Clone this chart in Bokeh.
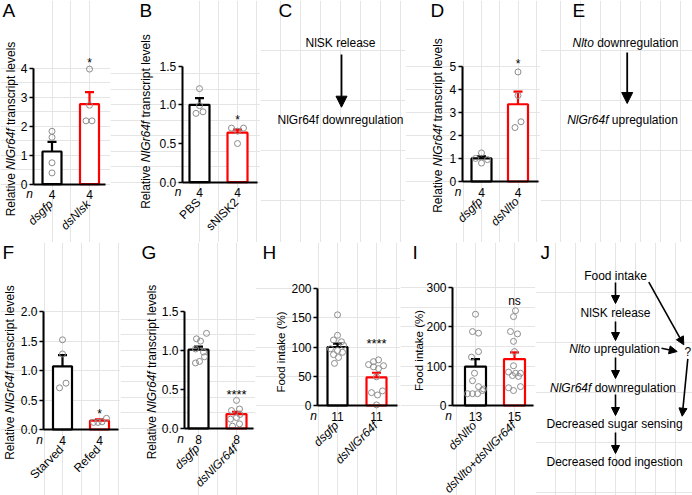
import math
from bokeh.plotting import figure
from bokeh.models import Range1d, FixedTicker, Arrow, NormalHead, LinearAxis
from bokeh.layouts import row, column
from bokeh.core.properties import value
from bokeh.embed import file_html
from bokeh.resources import INLINE

FONT = "Liberation Sans"

# ---------------- data ----------------
A_cats = ["dsgfp", "dsNlsk"]
A_n = [4, 4]
A_mean = [1.13, 2.77]
A_sem = [0.33, 0.41]
A_pts_0 = [1.83, 1.62, 0.74, 0.39]
A_pts_1 = [3.98, 2.73, 2.19, 2.19]
A_ticks = [0, 1, 2, 3, 4]
A_tick_labels = ["0", "1", "2", "3", "4"]
A_sig = "*"
A_sig_y = 4.3

B_cats = ["PBS", "sNlSK2"]
B_n = [4, 4]
B_mean = [1.00, 0.64]
B_sem = [0.086, 0.04]
B_pts_0 = [1.21, 0.99, 0.89, 0.91]
B_pts_1 = [0.70, 0.66, 0.50, 0.70]
B_ticks = [0, 0.5, 1, 1.5]
B_tick_labels = ["0.0", "0.5", "1.0", "1.5"]
B_sig = "*"
B_sig_y = 0.84

D_cats = ["dsgfp", "dsNlto"]
D_n = [4, 4]
D_mean = [1.00, 3.35]
D_sem = [0.09, 0.55]
D_pts_0 = [1.24, 1.00, 0.80, 0.95]
D_pts_1 = [4.75, 3.73, 2.59, 2.34]
D_ticks = [0, 1, 2, 3, 4, 5]
D_tick_labels = ["0", "1", "2", "3", "4", "5"]
D_sig = "*"
D_sig_y = 5.24

F_cats = ["Starved", "Refed"]
F_n = [4, 4]
F_mean = [1.07, 0.15]
F_sem = [0.19, 0.02]
F_pts_0 = [1.52, 1.28, 0.785, 0.706]
F_pts_1 = [0.19, 0.12, 0.12, 0.13]
F_ticks = [0, 0.5, 1, 1.5, 2]
F_tick_labels = ["0.0", "0.5", "1.0", "1.5", "2.0"]
F_sig = "*"
F_sig_y = 0.32

G_cats = ["dsgfp", "dsNlGr64f"]
G_n = [8, 8]
G_mean = [1.01, 0.185]
G_sem = [0.04, 0.03]
G_pts_0 = [1.22, 1.15, 1.12, 1.02, 0.98, 0.92, 0.86, 0.84]
G_pts_1 = [0.36, 0.25, 0.23, 0.18, 0.14, 0.12, 0.06, 0.03]
G_ticks = [0, 0.5, 1, 1.5]
G_tick_labels = ["0.0", "0.5", "1.0", "1.5"]
G_sig = "****"
G_sig_y = 0.47

H_cats = ["dsgfp", "dsNlGr64f"]
H_n = [11, 11]
H_mean = [100, 48]
H_sem = [5.6, 8]
H_pts_0 = [155, 120, 112, 109, 103, 97, 94, 91, 87, 82, 72]
H_pts_1 = [78, 75, 70, 68, 66, 63, 49, 25, 22, 18, 1]
H_ticks = [0, 50, 100, 150, 200]
H_tick_labels = ["0", "50", "100", "150", "200"]
H_sig = "****"
H_sig_y = 111

I_cats = ["dsNlto", "dsNlto+dsNlGr64f"]
I_n = [13, 15]
I_mean = [99, 118]
I_sem = [19, 17]
I_pts_0 = [232, 188, 184, 137, 123, 82, 63, 48, 42, 38, 30, 30, 30]
I_pts_1 = [241, 226, 188, 182, 163, 137, 101, 85, 82, 82, 76, 74, 48, 45, 38]
I_ticks = [0, 100, 200, 300]
I_tick_labels = ["0", "100", "200", "300"]
I_sig = "ns"
I_sig_y = 266

YLAB_REL = [("Relative", False), ("NlGr64f", True), ("transcript levels", False)]
YLAB_FOOD = [("Food intake (%)", False)]

C_lines = [[("NlSK release", False)], [("NlGr64f downregulation", False)]]
E_lines = [[("Nlto", True), ("downregulation", False)],
           [("NlGr64f", True), ("upregulation", False)]]
J_lines = [[("Food intake", False)],
           [("NlSK release", False)],
           [("Nlto", True), ("upregulation", False)],
           [("NlGr64f", True), ("downregulation", False)],
           [("Decreased sugar sensing", False)],
           [("Decreased food ingestion", False)]]
J_q = "?"

# ---------------- layout (pixels inside each panel) ----------------
TOP_H = 242
BOT_H = 253
LAY = {
    "A": dict(w=110, h=TOP_H, ax=33, rx=105, yb=183.7, yt=68, centers=(51.5, 89), bw=19,
              jit=([0, 0, 0, 0], [0, 0, -3.5, 2.5]), ylab=(10, 128.5), ylab_size=12, letter=2, ly=10),
    "B": dict(w=150, h=TOP_H, ax=71.7, rx=146.7, yb=181.7, yt=65.7, centers=(89, 127), bw=20,
              jit=([0, 0, -3.5, 3.5], [-6, 0, 0, 6]), ylab=(35, 121), ylab_size=12, letter=29, ly=10),
    "D": dict(w=135, h=TOP_H, ax=56.7, rx=133, yb=181, yt=65.7, centers=(76, 112.5), bw=20,
              jit=([0, -6, 0, 6], [0, 0, 3, -3]), ylab=(32, 125), ylab_size=12, letter=25, ly=10),
    "F": dict(w=120, h=BOT_H, ax=43, rx=118, yb=187, yt=69, centers=(62, 99), bw=19,
              jit=([0, 0, 3.5, -3], [7, -6, -1.5, 2.5]), ylab=(9, 130), ylab_size=12, letter=2, ly=10),
    "G": dict(w=135, h=BOT_H, ax=64, rx=133, yb=186, yt=69, centers=(78, 116), bw=20,
              jit=([8, -2, 2, -3, 5, 6, 1, -3], [0, 3, -5, 3.5, 0, -6, 3, -4]), ylab=(31, 129.5),
              ylab_size=12, letter=21, ly=10),
    "H": dict(w=145, h=BOT_H, ax=62, rx=142, yb=163, yt=46, centers=(82, 121), bw=20,
              jit=([0, 0, -4, 4, 6, -7, 0, 5, -4, 1, -3], [2, -3, -8, 7, -3, 2, 0, 6, -5, 1, 0]),
              ylab=(25, 109.5), ylab_size=11.5, letter=7, ly=10),
    "I": dict(w=135, h=BOT_H, ax=52, rx=133, yb=163, yt=45, centers=(75, 114), bw=21,
              jit=([0, -3, 3, 3, -4, -1, -3, 3, 8, 7, -8, -3, 2], [1, -1, -4, 3, -1, 0, -1, -6, 1, 6, -2, 4, 6, -6, -1]),
              ylab=(18, 108), ylab_size=11.5, letter=12, ly=10),
}
CAT_DX, CAT_DY = -1, 18

AW = {' ': 278, '%': 889, '(': 333, ')': 333, '*': 389, '+': 584, '.': 278, '?': 556,
      'A': 667, 'B': 667, 'C': 722, 'D': 722, 'E': 667, 'F': 611, 'G': 778, 'H': 722, 'I': 278,
      'J': 500, 'K': 667, 'L': 556, 'M': 833, 'N': 722, 'O': 778, 'P': 667, 'R': 722, 'S': 667,
      'T': 611, 'a': 556, 'b': 556, 'c': 500, 'd': 556, 'e': 556, 'f': 278, 'g': 556, 'h': 556,
      'i': 222, 'j': 222, 'k': 500, 'l': 222, 'm': 833, 'n': 556, 'o': 556, 'p': 556, 'q': 556,
      'r': 333, 's': 500, 't': 278, 'u': 556, 'v': 500, 'w': 722, 'x': 500, 'y': 500, 'z': 500}


def tw(s, size):
    return sum(AW.get(c, 556) for c in s) * size / 1000.0


COLORS = ["black", "#ff0000"]
GRAY = "#8c8c8c"


def put_text(p, x, y, text, size="12px", italic=False, align="center", baseline="middle", angle=0.0):
    p.text(x=[x], y=[y], text=[text], text_font=value(FONT), text_font_size=value(size),
           text_font_style=value("italic" if italic else "normal"), text_align=value(align),
           text_baseline=value(baseline), angle=angle, text_color=value("black"))


def style_axis(ax):
    ax.axis_line_width = 2
    ax.axis_line_color = "black"
    ax.major_tick_line_width = 1.5
    ax.major_tick_line_color = "black"
    ax.major_tick_in = 0
    ax.minor_tick_in = 0
    ax.minor_tick_out = 0
    ax.major_label_text_font = FONT
    ax.major_label_text_font_size = "12px"
    ax.major_label_text_color = "black"


def bar_panel(letter, lay, cats, counts, means, sems, pts, ticks, tick_labels, sig, sig_y, ylab, cat_italic):
    w, h = lay["w"], lay["h"]
    c0, c1 = lay["centers"]
    unit = c1 - c0                       # px per category step
    top = ticks[-1]
    s = (lay["yb"] - lay["yt"]) / top    # px per data unit
    x0 = -c0 / unit
    x1 = x0 + w / unit
    y1 = lay["yb"] / s
    y0 = -(h - lay["yb"]) / s
    X = lambda px: x0 + px / unit
    Y = lambda py: (lay["yb"] - py) / s

    p = figure(width=w, height=h, x_range=Range1d(x0, x1), y_range=Range1d(y0, y1),
               min_border=0, toolbar_location=None, output_backend="svg", title=None,
               x_axis_location=None, y_axis_location=None)
    p.outline_line_color = None
    p.background_fill_color = "white"
    p.border_fill_color = "white"

    idx = list(range(len(cats)))
    p.vbar(x=idx, top=means, bottom=0, width=lay["bw"] / unit, fill_color="white",
           line_color=COLORS, line_width=2.2)
    ups = [m + e for m, e in zip(means, sems)]
    p.segment(x0=idx, y0=means, x1=idx, y1=ups, line_color=COLORS, line_width=2.2)
    capw = 9 / unit
    p.segment(x0=[i - capw / 2 for i in idx], y0=ups, x1=[i + capw / 2 for i in idx], y1=ups,
              line_color=COLORS, line_width=2.2)
    px_, py_ = [], []
    for i, (vals, jj) in enumerate(zip(pts, lay["jit"])):
        for v, j in zip(vals, jj):
            px_.append(i + j / unit)
            py_.append(v)
    p.scatter(x=px_, y=py_, marker="circle", size=6, fill_color=None, line_color=GRAY, line_width=1)

    shift = 3 if "*" in sig else 0
    put_text(p, 1, sig_y - shift / s, sig, size="12px" if sig != "****" else "13px")

    ya = LinearAxis(fixed_location=X(lay["ax"]), bounds=(0, top), ticker=FixedTicker(ticks=ticks),
                    major_label_overrides={t: l for t, l in zip(ticks, tick_labels)})
    style_axis(ya)
    ya.major_tick_out = 4
    ya.major_label_standoff = 2
    p.add_layout(ya, "left")
    xa = LinearAxis(fixed_location=0, bounds=(X(lay["ax"]), X(lay["rx"])), ticker=FixedTicker(ticks=idx),
                    major_label_overrides={i: str(n) for i, n in zip(idx, counts)})
    style_axis(xa)
    xa.major_tick_out = 0
    xa.major_label_standoff = 6
    p.add_layout(xa, "below")

    # panel letter
    put_text(p, X(lay["letter"]), Y(lay["ly"]), letter, size="19px", align="left")
    # y label (pieces, mixed italic)
    cx, cy = lay["ylab"]
    fs = lay["ylab_size"]
    gap = tw(" ", fs)
    widths = [tw(t, fs) for t, _ in ylab]
    total = sum(widths) + gap * (len(ylab) - 1)
    cur = cy + total / 2
    for (t, it), wd in zip(ylab, widths):
        put_text(p, X(cx), Y(cur), t, size=f"{fs}px", italic=it, align="left", angle=math.pi / 2)
        cur -= wd + gap
    # n
    put_text(p, X(lay["ax"] - 4), Y(lay["yb"] + 10), "n", italic=True)
    # category labels
    for i, c in enumerate(cats):
        cpx = c0 + i * unit
        put_text(p, X(cpx + CAT_DX), Y(lay["yb"] + CAT_DY), c, italic=cat_italic, align="right",
                 angle=math.pi / 4)
    return p


def diag_panel(w, h, letter, lx, ly):
    p = figure(width=w, height=h, x_range=Range1d(0, w), y_range=Range1d(h, 0), min_border=0,
               toolbar_location=None, output_backend="svg", title=None,
               x_axis_location=None, y_axis_location=None)
    p.outline_line_color = None
    put_text(p, lx, ly, letter, size="19px", align="left")
    return p


def text_line(p, cx, cy, pieces, size=12):
    widths = [tw(t, size) for t, _ in pieces]
    gap = tw(" ", size)
    total = sum(widths) + gap * (len(pieces) - 1)
    x = cx - total / 2
    for (t, it), wd in zip(pieces, widths):
        put_text(p, x, cy, t, size=f"{size}px", italic=it, align="left")
        x += wd + gap


def arrow(p, xa, ya_, xb, yb, size=8, lw=1.6):
    p.add_layout(Arrow(end=NormalHead(size=size, fill_color="black", line_color="black", line_width=1),
                       x_start=xa, y_start=ya_, x_end=xb, y_end=yb, line_width=lw, line_color="black"))


pA = bar_panel("A", LAY["A"], A_cats, A_n, A_mean, A_sem, [A_pts_0, A_pts_1], A_ticks, A_tick_labels,
               A_sig, A_sig_y, YLAB_REL, True)
pB = bar_panel("B", LAY["B"], B_cats, B_n, B_mean, B_sem, [B_pts_0, B_pts_1], B_ticks, B_tick_labels,
               B_sig, B_sig_y, YLAB_REL, False)
pD = bar_panel("D", LAY["D"], D_cats, D_n, D_mean, D_sem, [D_pts_0, D_pts_1], D_ticks, D_tick_labels,
               D_sig, D_sig_y, YLAB_REL, True)
pF = bar_panel("F", LAY["F"], F_cats, F_n, F_mean, F_sem, [F_pts_0, F_pts_1], F_ticks, F_tick_labels,
               F_sig, F_sig_y, YLAB_REL, False)
pG = bar_panel("G", LAY["G"], G_cats, G_n, G_mean, G_sem, [G_pts_0, G_pts_1], G_ticks, G_tick_labels,
               G_sig, G_sig_y, YLAB_REL, True)
pH = bar_panel("H", LAY["H"], H_cats, H_n, H_mean, H_sem, [H_pts_0, H_pts_1], H_ticks, H_tick_labels,
               H_sig, H_sig_y, YLAB_FOOD, True)
pI = bar_panel("I", LAY["I"], I_cats, I_n, I_mean, I_sem, [I_pts_0, I_pts_1], I_ticks, I_tick_labels,
               I_sig, I_sig_y, YLAB_FOOD, True)

# panel C
pC = diag_panel(145, TOP_H, "C", 18, 10)
text_line(pC, 80, 42, C_lines[0])
text_line(pC, 80, 119, C_lines[1])
arrow(pC, 81, 54, 81, 106.7, size=11, lw=1.8)

# panel E
pE = diag_panel(152, TOP_H, "E", 32, 10)
text_line(pE, 85, 42, E_lines[0])
text_line(pE, 82, 119, E_lines[1])
arrow(pE, 86.7, 52, 86.7, 103, size=11, lw=1.8)

# panel J (y measured from the top of the lower row)
pJ = diag_panel(157, BOT_H, "J", 5, 10)
J_y = [33, 70, 106, 145, 181, 219]
J_x = [80, 80, 79, 77.5, 79, 79]
for cx, cy, ln in zip(J_x, J_y, J_lines):
    text_line(pJ, cx, cy, ln)
put_text(pJ, 152.3, 109.7, J_q)
for ya0, ya1 in [(40, 61), (79, 98), (115, 136), (152, 173), (190, 211)]:
    arrow(pJ, 80, ya0, 80, ya1)
arrow(pJ, 113.3, 39.7, 148.3, 102.3)
arrow(pJ, 126, 105.7, 141.7, 109)
arrow(pJ, 152.3, 116.3, 146.7, 173.7)

layout = column(row(pA, pB, pC, pD, pE), row(pF, pG, pH, pI, pJ))
open("out.html", "w").write(file_html(layout, INLINE))
